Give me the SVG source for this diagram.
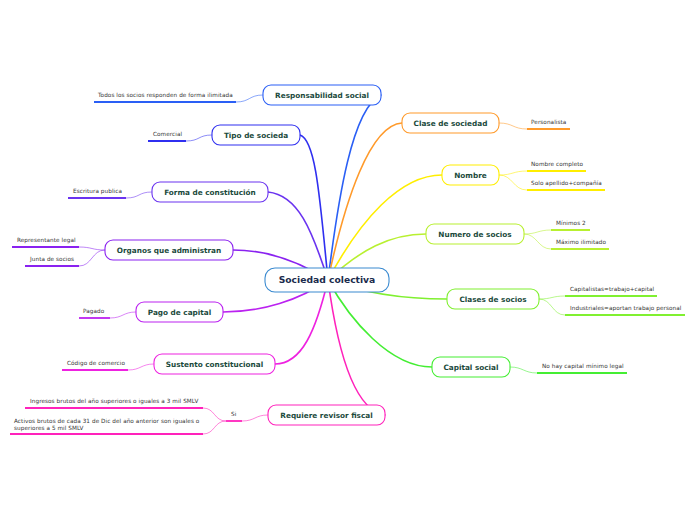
<svg xmlns="http://www.w3.org/2000/svg" width="696" height="520" viewBox="0 0 696 520">
<style>
.bg{fill:#ffffff}
.main{fill:none;stroke-width:1.6;stroke-linecap:round}
.sub{fill:none;stroke-width:1;opacity:0.55}
.ul{fill:none;stroke-width:1.8}
.box{fill:#ffffff;stroke-width:1.1}
.nt{font-family:"DejaVu Sans",Verdana,sans-serif;font-weight:bold;font-size:7.3px;fill:#1b4a3c;text-anchor:middle}
.ct{font-family:"DejaVu Sans",Verdana,sans-serif;font-weight:bold;font-size:9.2px;fill:#1a2b4c;text-anchor:middle}
.lt{font-family:"DejaVu Sans",Verdana,sans-serif;font-size:5.7px;fill:#333333;letter-spacing:0.08px}
</style>
<rect class="bg" x="0" y="0" width="696" height="520"/>
<g id="connectors">
<path class="main" stroke="#2a5ff5" d="M328,280 C338,200 352,108 381,95"/>
<path class="main" stroke="#2f2ff0" d="M328,280 C320,200 316,140 300,135"/>
<path class="main" stroke="#6a33f0" d="M328,280 C312,230 298,195 268,192"/>
<path class="main" stroke="#8a22f0" d="M328,280 C300,262 270,250 233,250"/>
<path class="main" stroke="#bb22f0" d="M328,280 C300,300 262,312 223,312"/>
<path class="main" stroke="#ee22e0" d="M328,280 C316,330 302,364 275,364"/>
<path class="main" stroke="#ff22bb" d="M328,280 C336,340 352,410 385,415"/>
<path class="main" stroke="#ff9a2a" d="M328,280 C345,200 370,125 402,123"/>
<path class="main" stroke="#ffee00" d="M328,280 C360,220 400,175 442,175"/>
<path class="main" stroke="#b8f030" d="M328,280 C360,250 390,234 426,234"/>
<path class="main" stroke="#80f030" d="M328,280 C360,292 400,299 447,299"/>
<path class="main" stroke="#44ee33" d="M328,280 C350,320 390,367 432,367"/>
<path class="sub" stroke="#2a5ff5" d="M263,95 C249,95 250,102 236,102"/>
<path class="sub" stroke="#2f2ff0" d="M212,135 C198,135 200,141 186,141"/>
<path class="sub" stroke="#6a33f0" d="M152,192 C138,192 140,198 126,198"/>
<path class="sub" stroke="#8a22f0" d="M105,250 C92,250 92,247 79,247"/>
<path class="sub" stroke="#8a22f0" d="M105,250 C92,250 92,266 79,266"/>
<path class="sub" stroke="#bb22f0" d="M136,312 C123,312 123,318 110,318"/>
<path class="sub" stroke="#ee22e0" d="M154,364 C141,364 141,370 128,370"/>
<path class="sub" stroke="#ff22bb" d="M268,415 C255,415 255,421 242,421"/>
<path class="sub" stroke="#ff22bb" d="M226,421 C214,421 215,408 203,408"/>
<path class="sub" stroke="#ff22bb" d="M226,421 C214,421 215,434 203,434"/>
<path class="sub" stroke="#ff9a2a" d="M499,123 C513,123 513,129 527,129"/>
<path class="sub" stroke="#ffee00" d="M499,175 C513,175 513,171 527,171"/>
<path class="sub" stroke="#ffee00" d="M499,175 C513,175 513,190 527,190"/>
<path class="sub" stroke="#b8f030" d="M524,234 C537,234 538,230 551,230"/>
<path class="sub" stroke="#b8f030" d="M524,234 C537,234 538,249 551,249"/>
<path class="sub" stroke="#80f030" d="M539,299 C552,299 552,296 565,296"/>
<path class="sub" stroke="#80f030" d="M539,299 C552,299 552,315 565,315"/>
<path class="sub" stroke="#44ee33" d="M510,367 C523,367 524,373 537,373"/>
</g>
<g id="center"><rect class="box" stroke="#3a8ad0" x="265" y="268" width="124" height="24" rx="10"/><text class="ct" x="327" y="283.3">Sociedad colectiva</text></g>
<g id="responsabilidad"><rect class="box" stroke="#2a5ff5" x="263" y="85" width="118" height="20" rx="8"/><text class="nt" x="322" y="97.6">Responsabilidad social</text></g>
<g id="tipo"><rect class="box" stroke="#2f2ff0" x="212" y="125" width="88" height="20" rx="8"/><text class="nt" x="256" y="137.6">Tipo de socieda</text></g>
<g id="forma"><rect class="box" stroke="#6a33f0" x="152" y="182" width="116" height="20" rx="8"/><text class="nt" x="210" y="194.6">Forma de constitución</text></g>
<g id="organos"><rect class="box" stroke="#8a22f0" x="105" y="240" width="128" height="20" rx="8"/><text class="nt" x="169" y="252.6">Organos que administran</text></g>
<g id="pago"><rect class="box" stroke="#bb22f0" x="136" y="302" width="87" height="20" rx="8"/><text class="nt" x="179.5" y="314.6">Pago de capital</text></g>
<g id="sustento"><rect class="box" stroke="#ee22e0" x="154" y="354" width="121" height="20" rx="8"/><text class="nt" x="214.5" y="366.6">Sustento constitucional</text></g>
<g id="requiere"><rect class="box" stroke="#ff22bb" x="268" y="405" width="117" height="20" rx="8"/><text class="nt" x="326.5" y="417.6">Requiere revisor fiscal</text></g>
<g id="clase"><rect class="box" stroke="#ff9a2a" x="402" y="113" width="97" height="20" rx="8"/><text class="nt" x="450.5" y="125.6">Clase de sociedad</text></g>
<g id="nombre"><rect class="box" stroke="#ffee00" x="442" y="165" width="57" height="20" rx="8"/><text class="nt" x="470.5" y="177.6">Nombre</text></g>
<g id="numero"><rect class="box" stroke="#b8f030" x="426" y="224" width="98" height="20" rx="8"/><text class="nt" x="475" y="236.6">Numero de socios</text></g>
<g id="clases"><rect class="box" stroke="#80f030" x="447" y="289" width="92" height="20" rx="8"/><text class="nt" x="493" y="301.6">Clases de socios</text></g>
<g id="capital"><rect class="box" stroke="#44ee33" x="432" y="357" width="78" height="20" rx="8"/><text class="nt" x="471" y="369.6">Capital social</text></g>
<g id="leaf-todos"><path class="ul" stroke="#2a5ff5" d="M94,102 H236"/><text class="lt" x="98" y="97">Todos los socios responden de forma ilimitada</text></g>
<g id="leaf-comercial"><path class="ul" stroke="#2f2ff0" d="M148,141 H186"/><text class="lt" x="153" y="136">Comercial</text></g>
<g id="leaf-escritura"><path class="ul" stroke="#6a33f0" d="M68,198 H126"/><text class="lt" x="73" y="193">Escritura publica</text></g>
<g id="leaf-representante"><path class="ul" stroke="#8a22f0" d="M12,247 H79"/><text class="lt" x="17" y="242">Representante legal</text></g>
<g id="leaf-junta"><path class="ul" stroke="#8a22f0" d="M25,266 H79"/><text class="lt" x="30" y="261">Junta de socios</text></g>
<g id="leaf-pagado"><path class="ul" stroke="#bb22f0" d="M79,318 H110"/><text class="lt" x="83" y="313">Pagado</text></g>
<g id="leaf-codigo"><path class="ul" stroke="#ee22e0" d="M62,370 H128"/><text class="lt" x="67" y="365">Código de comercio</text></g>
<g id="leaf-si"><path class="ul" stroke="#ff22bb" d="M226,421 H242"/><text class="lt" x="231" y="416">Si</text></g>
<g id="leaf-ingresos"><path class="ul" stroke="#ff22bb" d="M25,408 H203"/><text class="lt" x="30" y="403">Ingresos brutos del año superiores o iguales a 3 mil SMLV</text></g>
<g id="leaf-activos"><path class="ul" stroke="#ff22bb" d="M10,434 H203"/><text class="lt" x="14" y="423">Activos brutos de cada 31 de Dic del año anterior son iguales o</text><text class="lt" x="14" y="430">superiores a 5 mil SMLV</text></g>
<g id="leaf-personalista"><path class="ul" stroke="#ff9a2a" d="M527,129 H570"/><text class="lt" x="531" y="124">Personalista</text></g>
<g id="leaf-nombrecompleto"><path class="ul" stroke="#ffee00" d="M527,171 H586"/><text class="lt" x="531" y="166">Nombre completo</text></g>
<g id="leaf-solo"><path class="ul" stroke="#ffee00" d="M527,190 H605"/><text class="lt" x="531" y="185">Solo apellido+compañía</text></g>
<g id="leaf-minimos"><path class="ul" stroke="#b8f030" d="M551,230 H590"/><text class="lt" x="556" y="225">Mínimos 2</text></g>
<g id="leaf-maximo"><path class="ul" stroke="#b8f030" d="M551,249 H609"/><text class="lt" x="556" y="244">Máximo ilimitado</text></g>
<g id="leaf-capitalistas"><path class="ul" stroke="#80f030" d="M565,296 H657"/><text class="lt" x="570" y="291">Capitalistas=trabajo+capital</text></g>
<g id="leaf-industriales"><path class="ul" stroke="#80f030" d="M565,315 H685"/><text class="lt" x="570" y="310">Industriales=aportan trabajo personal</text></g>
<g id="leaf-nohay"><path class="ul" stroke="#44ee33" d="M537,373 H627"/><text class="lt" x="542" y="368">No hay capital mínimo legal</text></g>
</svg>
